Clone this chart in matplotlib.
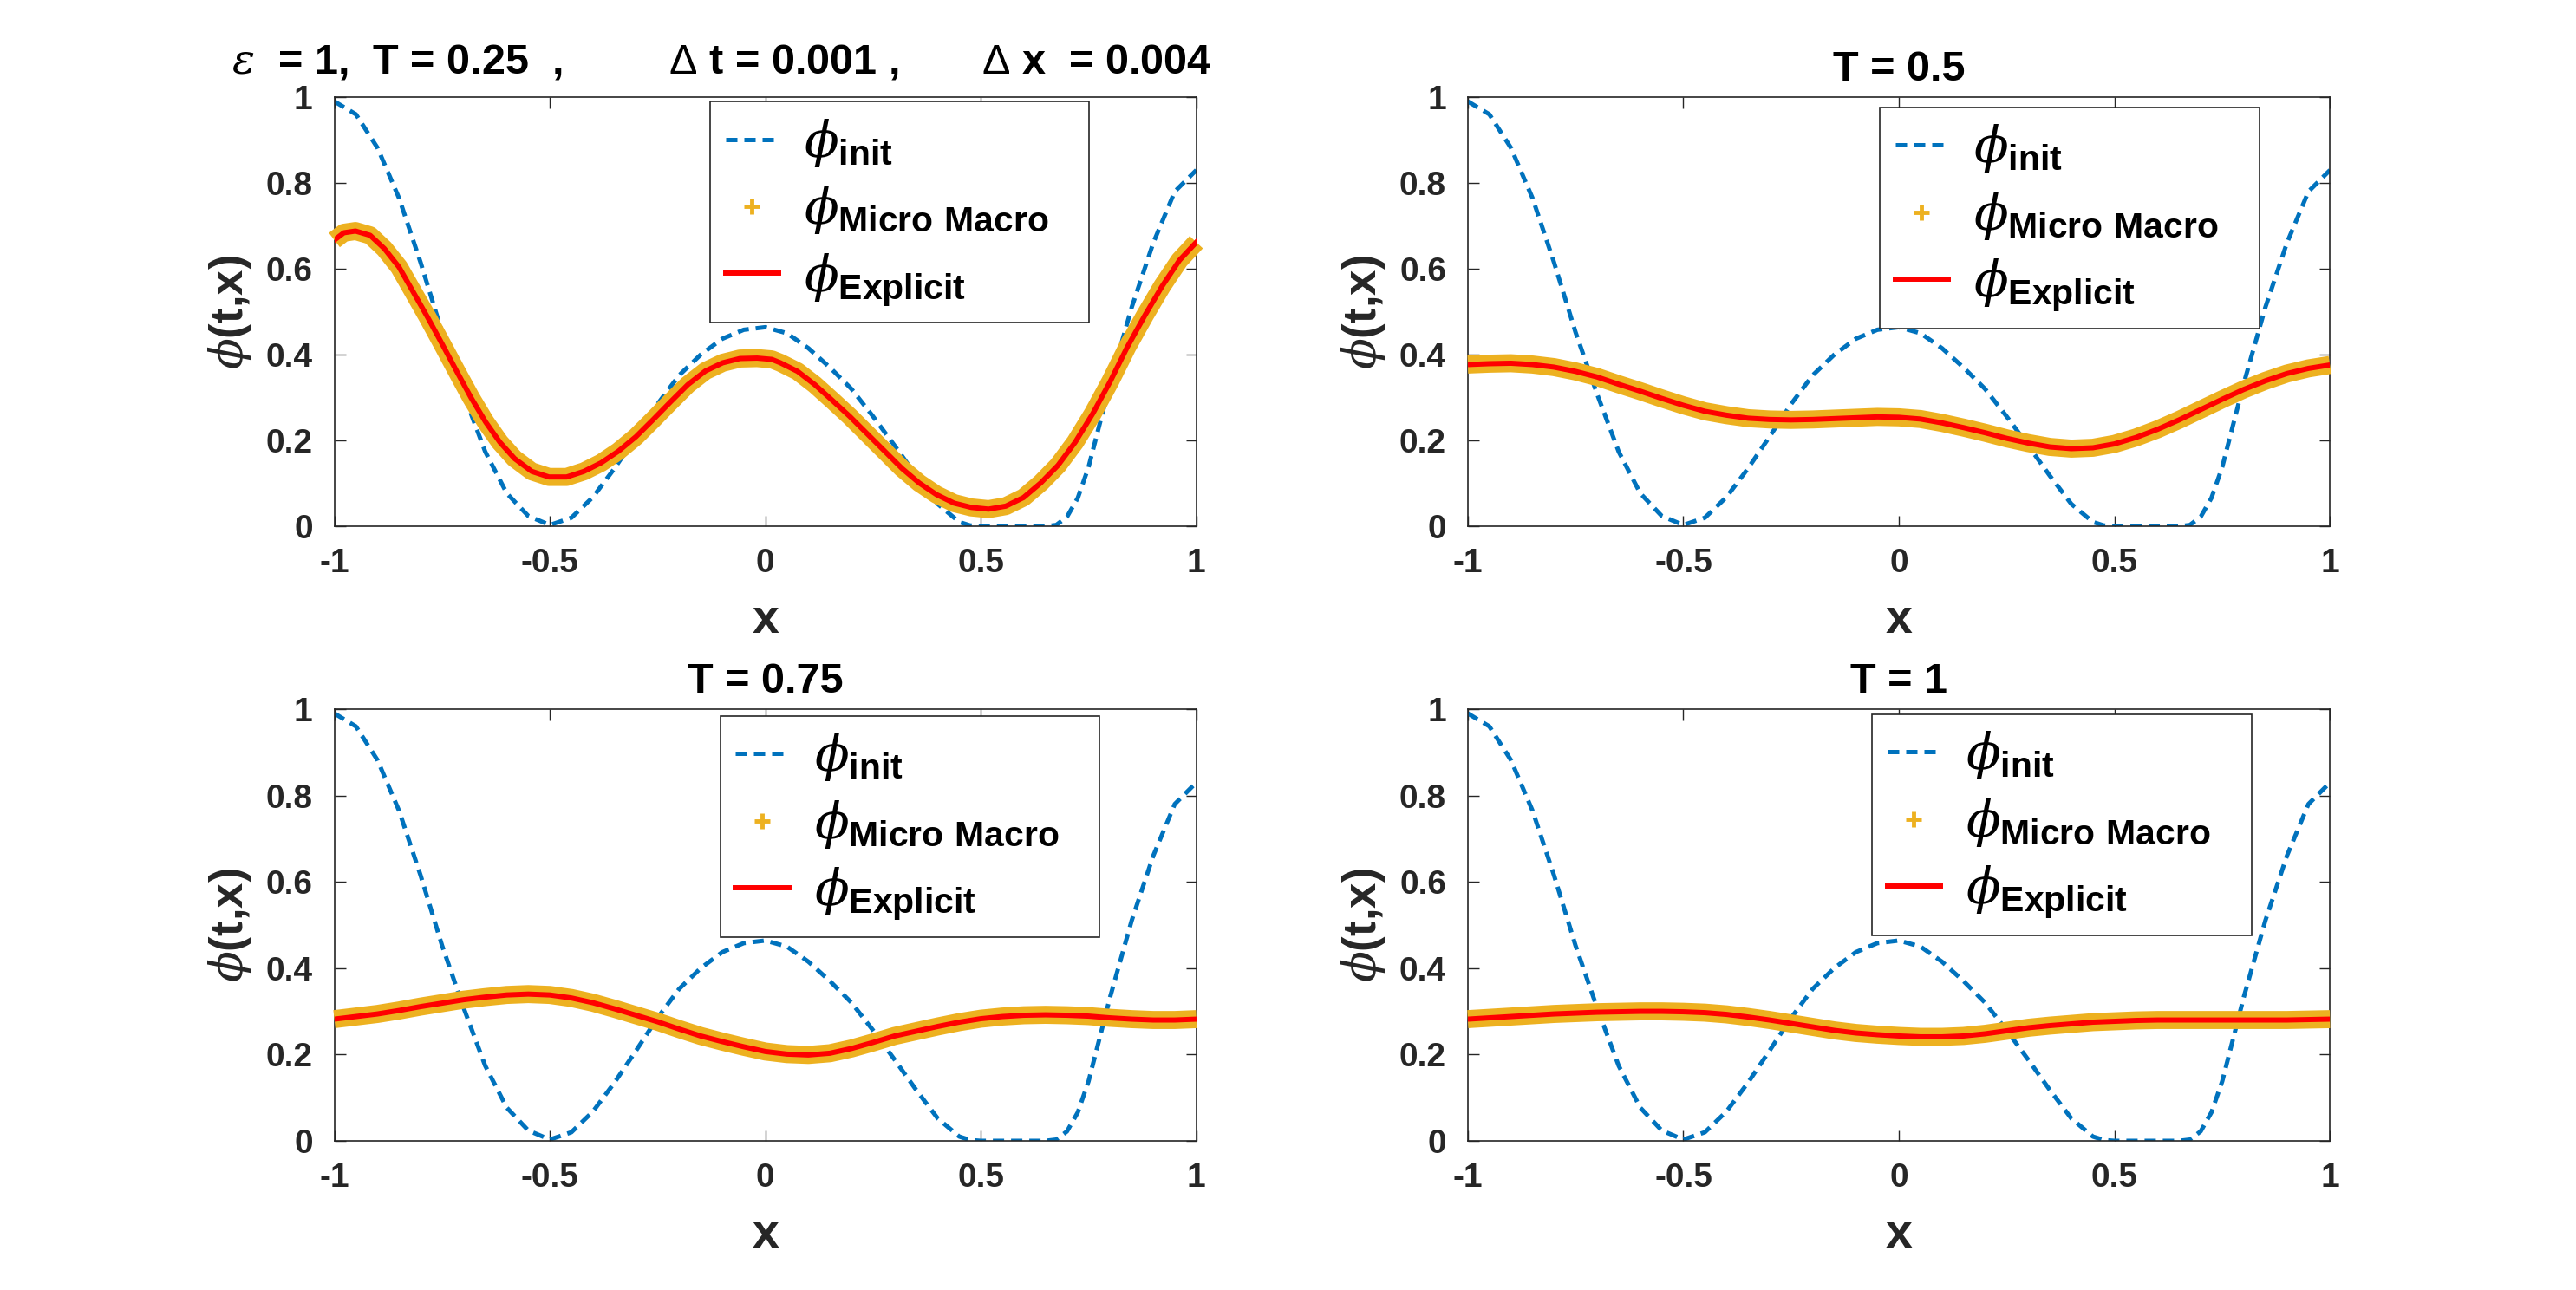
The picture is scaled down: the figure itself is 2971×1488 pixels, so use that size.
import numpy as np
import matplotlib.pyplot as plt
from matplotlib.lines import Line2D

plt.rcParams['font.family'] = ['Liberation Sans', 'DejaVu Sans']
plt.rcParams['font.weight'] = 'bold'
plt.rcParams['axes.labelweight'] = 'bold'
plt.rcParams['axes.titleweight'] = 'bold'
plt.rcParams['axes.unicode_minus'] = False
plt.rcParams['mathtext.fontset'] = 'custom'
plt.rcParams['mathtext.rm'] = 'Liberation Sans:weight=normal'
plt.rcParams['mathtext.bf'] = 'Liberation Sans:weight=bold'
plt.rcParams['mathtext.it'] = 'DejaVu Serif:style=italic:weight=normal'

# initial condition
x_init = [-1.0, -0.95, -0.9, -0.85, -0.8, -0.75, -0.7, -0.65, -0.6, -0.55, -0.5,
          -0.45, -0.4, -0.35, -0.3, -0.25, -0.2, -0.15, -0.1, -0.05, 0.0,
          0.05, 0.1, 0.15, 0.2, 0.25, 0.3, 0.35, 0.4, 0.45, 0.475, 0.5,
          0.55, 0.6, 0.65, 0.675, 0.7, 0.725, 0.75, 0.8, 0.85, 0.9, 0.95, 1.0]
phi_init = [0.990, 0.960, 0.882, 0.765, 0.615, 0.452, 0.308, 0.174, 0.077, 0.024, 0.003,
            0.020, 0.068, 0.135, 0.209, 0.285, 0.352, 0.400, 0.437, 0.458, 0.464,
            0.450, 0.415, 0.370, 0.320, 0.256, 0.188, 0.118, 0.052, 0.010, 0.002, 0.0,
            0.0, 0.0, 0.0, 0.003, 0.022, 0.066, 0.138, 0.333, 0.510, 0.660, 0.780, 0.830]

# T = 0.25 (read at the points where it was measured)
x_T025 = [-1.0, -0.978, -0.951, -0.917, -0.884, -0.850, -0.817, -0.783, -0.750, -0.716,
          -0.683, -0.649, -0.616, -0.582, -0.542, -0.502, -0.461, -0.421, -0.381, -0.341,
          -0.300, -0.260, -0.220, -0.180, -0.139, -0.099, -0.059, -0.019, 0.015, 0.035,
          0.075, 0.115, 0.156, 0.196, 0.236, 0.277, 0.317, 0.357, 0.397, 0.438,
          0.478, 0.518, 0.558, 0.599, 0.639, 0.679, 0.719, 0.760, 0.800, 0.840,
          0.881, 0.921, 0.961, 1.0]
phi_T025 = [0.667, 0.684, 0.688, 0.678, 0.647, 0.604, 0.546, 0.486, 0.425, 0.361,
            0.300, 0.243, 0.196, 0.158, 0.128, 0.115, 0.115, 0.128, 0.148, 0.175,
            0.209, 0.249, 0.290, 0.330, 0.362, 0.381, 0.391, 0.392, 0.389, 0.381,
            0.361, 0.330, 0.293, 0.256, 0.216, 0.175, 0.135, 0.101, 0.074, 0.054,
            0.044, 0.040, 0.047, 0.067, 0.101, 0.142, 0.196, 0.263, 0.337, 0.418,
            0.492, 0.560, 0.620, 0.662]

# later times, read every 0.05
x_sol = np.linspace(-1, 1, 41)

phi_T050 = [0.377, 0.379, 0.380, 0.377, 0.371, 0.361, 0.348, 0.331, 0.315, 0.298, 0.282,
            0.268, 0.259, 0.252, 0.249, 0.248, 0.249, 0.251, 0.253, 0.255, 0.254,
            0.250, 0.241, 0.230, 0.218, 0.205, 0.194, 0.185, 0.181, 0.183, 0.192,
            0.207, 0.226, 0.248, 0.272, 0.296, 0.319, 0.339, 0.356, 0.368, 0.376]
phi_T075 = [0.282, 0.288, 0.294, 0.302, 0.311, 0.319, 0.327, 0.333, 0.338, 0.340, 0.338,
            0.331, 0.320, 0.306, 0.291, 0.276, 0.259, 0.243, 0.230, 0.218, 0.207,
            0.201, 0.199, 0.203, 0.214, 0.228, 0.243, 0.254, 0.265, 0.275, 0.283,
            0.288, 0.291, 0.292, 0.291, 0.289, 0.285, 0.282, 0.280, 0.280, 0.282]
phi_T100 = [0.282, 0.285, 0.288, 0.291, 0.294, 0.296, 0.298, 0.299, 0.300, 0.300, 0.299,
            0.297, 0.293, 0.287, 0.280, 0.272, 0.264, 0.256, 0.250, 0.246, 0.243,
            0.241, 0.241, 0.243, 0.248, 0.255, 0.262, 0.267, 0.271, 0.275, 0.277,
            0.279, 0.280, 0.280, 0.280, 0.280, 0.280, 0.280, 0.280, 0.281, 0.282]

xs = [x_T025, x_sol, x_sol, x_sol]
solutions = [phi_T025, phi_T050, phi_T075, phi_T100]
titles = [r'$\epsilon$  = 1,  T = 0.25  ,         $\Delta$ t = 0.001 ,       $\Delta$ x  = 0.004',
          'T = 0.5', 'T = 0.75', 'T = 1']

blue = '#0072BD'
orange = '#EDB120'
red = '#FF0000'
dark = '#262626'

fig = plt.figure(figsize=(29.71, 14.88), dpi=100)

positions = [[0.1298, 0.592, 0.3346, 0.3327], [0.5698, 0.592, 0.3347, 0.3327],
             [0.1298, 0.1156, 0.3346, 0.3347], [0.5698, 0.1156, 0.3347, 0.3347]]
legend_pos = [(0.436, 0.989), (0.478, 0.976), (0.448, 0.984), (0.469, 0.988)]

for i in range(4):
    ax = fig.add_axes(positions[i])
    ax.plot(x_init, phi_init, color=blue, lw=3.6, dashes=(2.6, 1.6), zorder=2)
    ax.plot(xs[i], solutions[i], color=orange, lw=15, zorder=3,
            solid_capstyle='butt', solid_joinstyle='round', clip_on=False)
    ax.plot(xs[i], solutions[i], color=red, lw=4.3, zorder=4,
            solid_joinstyle='round')

    ax.set_xlim(-1, 1)
    ax.set_ylim(0, 1)
    ax.set_xticks([-1, -0.5, 0, 0.5, 1])
    ax.set_xticklabels(['-1', '-0.5', '0', '0.5', '1'])
    ax.set_yticks([0, 0.2, 0.4, 0.6, 0.8, 1])
    ax.set_yticklabels(['0', '0.2', '0.4', '0.6', '0.8', '1'])
    ax.tick_params(direction='in', top=True, right=True, length=9, width=1,
                   labelsize=28, colors=dark, labelcolor=dark)
    ax.tick_params(axis='x', pad=18)
    ax.tick_params(axis='y', pad=18)
    for s in ax.spines.values():
        s.set_color(dark)
        s.set_linewidth(1.2)

    ax.set_xlabel('x', fontsize=40, color=dark, labelpad=16)
    ax.set_ylabel(r'$\phi$(t,x)', fontsize=38, color=dark, labelpad=10)
    if i == 0:
        ax.text(0.449, 1.035, titles[i], transform=ax.transAxes, ha='center',
                va='bottom', fontsize=35, fontweight='bold')
    else:
        ax.set_title(titles[i], fontsize=35, pad=14)

    handles = [Line2D([], [], color=blue, lw=3.6, dashes=(2.6, 1.6)),
               Line2D([], [], ls='none', marker='+', color=orange, ms=13, mew=3.5),
               Line2D([], [], color=red, lw=4.3)]
    labels = [r'$\phi_{\mathbf{init}}$', r'$\phi_{\mathbf{Micro\ Macro}}$',
              r'$\phi_{\mathbf{Explicit}}$']
    lx, ly = legend_pos[i]
    leg = ax.legend(handles, labels, loc='upper left', bbox_to_anchor=(lx, ly, 0.44, 0),
                    mode='expand', borderaxespad=0, fontsize=42, handlelength=1.05,
                    handletextpad=0.5, labelspacing=0.3, borderpad=0.3,
                    fancybox=False, framealpha=1)
    leg.get_frame().set_edgecolor(dark)
    leg.get_frame().set_linewidth(1.2)

fig.savefig('out.png', dpi=100)
